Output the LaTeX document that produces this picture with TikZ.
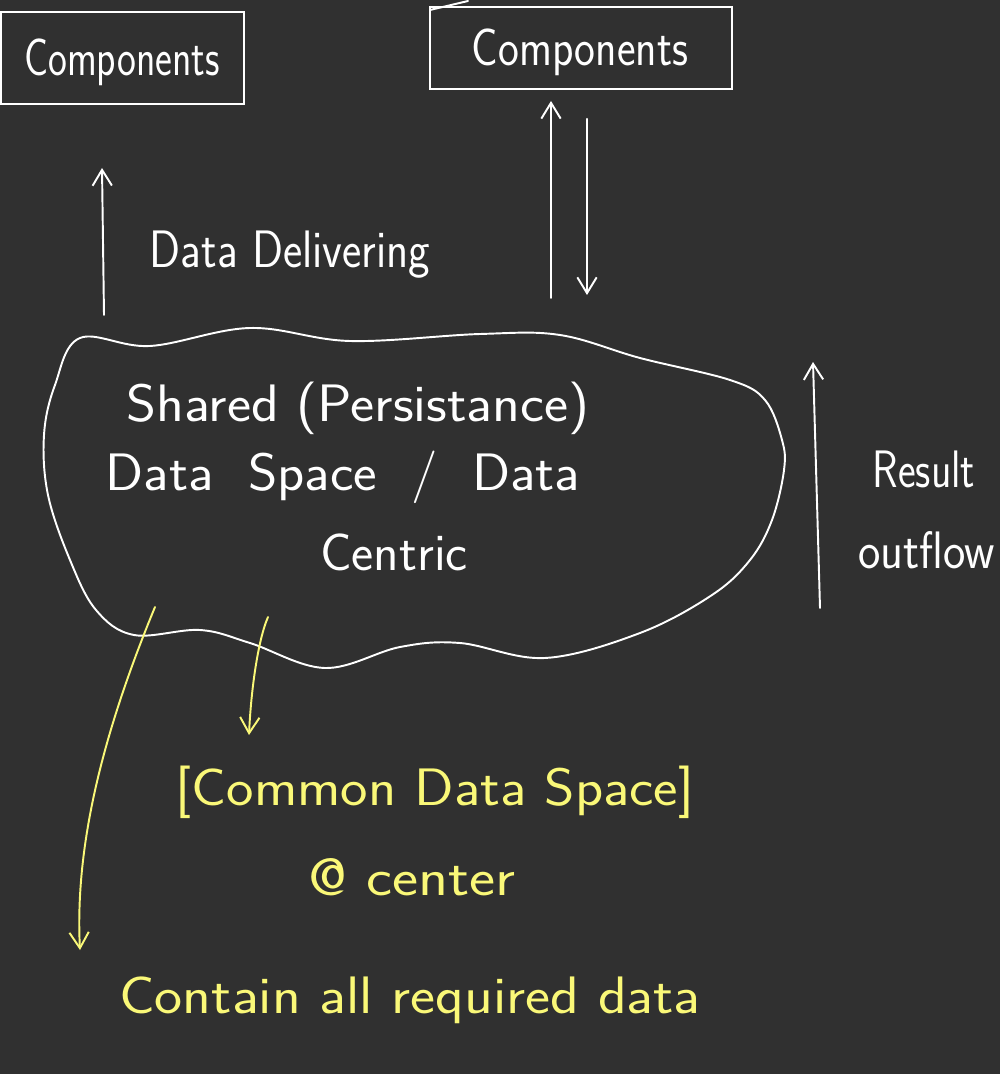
\documentclass[tikz,border=0pt]{standalone}
\usepackage{graphicx}
\usetikzlibrary{arrows.meta}
\definecolor{slate}{RGB}{48,48,48}
\definecolor{marker}{RGB}{250,248,120}
\newcommand{\hstretch}[2]{\scalebox{#1}[1]{#2}}
\tikzset{
  chalk/.style={white,line width=1.1pt,line cap=round,line join=round},
  hand/.style={font=\sffamily\fontsize{30}{36}\selectfont,text=white,inner sep=0pt},
  box/.style={draw=white,line width=1.1pt,inner sep=0pt},
  arr/.style={chalk,-{Straight Barb[length=9pt,width=11pt]}},
}
\begin{document}
\begin{tikzpicture}[x=0.02cm,y=-0.02cm]
  \useasboundingbox (0,0) rectangle (1000,1074);
  \fill[slate] (0,0) rectangle (1000,1074);
  % the two component boxes
  \node[box,minimum width=4.86cm,minimum height=1.84cm] (box1) at (122.5,58) {};
  \node[hand] (comp1) at (122,62) {\hstretch{0.76}{Components}};
  \node[box,minimum width=6.04cm,minimum height=1.64cm] (box2) at (581,48) {};
  \node[hand] (comp2) at (580,52) {\hstretch{0.84}{Components}};
  \draw[chalk] (430,42) -- (430,10) -- (468,1);
  % data delivering
  \coordinate (deliv foot) at (104,315);
  \coordinate (deliv tip) at (102,168);
  \draw[arr] (deliv foot) -- (deliv tip);
  \node[hand] (deliv) at (290,255) {\hstretch{0.87}{Data Delivering}};
  \coordinate (up foot) at (551,298);
  \coordinate (down foot) at (587,295);
  \draw[arr,shorten >=0.22cm] (up foot) -- (up foot |- box2.south);
  \draw[arr,shorten <=0.58cm] (down foot |- box2.south) -- (down foot);
  % the blob
  \draw[chalk] plot[smooth cycle,tension=0.6] coordinates {
    (80,338) (150,346) (250,328) (350,341) (480,334) (560,335) (640,358)
    (730,380) (765,400) (782,440) (784,470) (772,520) (750,560) (712,595)
    (640,633) (545,658) (460,643) (400,647) (325,668) (250,643) (200,630)
    (134,635) (96,610) (70,560) (48,495) (44,435) (55,385)};
  \node[hand] (shared) at (358,408) {\hstretch{1.09}{Shared (Persistance)}};
  \node[hand] (space) at (343,477) {\hstretch{1.066}{Data\hspace{0.3em} Space\hspace{0.3em} /\hspace{0.3em} Data}};
  \node[hand] (centric) at (394,552) {Centric};
  % result outflow
  \coordinate (flow foot) at (820,608);
  \coordinate (flow tip) at (813,362);
  \draw[arr] (flow foot) -- (flow tip);
  \node[hand] (result) at (924,469) {\hstretch{0.8}{Result}};
  \node[hand,anchor=west] (outflow) at (858,550) {\hstretch{0.9}{outflow}};
  % yellow notes
  \coordinate (fall top) at (155,607);
  \coordinate (fall tip) at (80,950);
  \draw[arr,marker] (fall top) .. controls (100,740) and (75,850) .. (fall tip);
  \coordinate (drop top) at (268,617);
  \coordinate (drop tip) at (249,735);
  \draw[arr,marker] (drop top) .. controls (258,640) and (251,690) .. (drop tip);
  \node[hand,text=marker] (common) at (435,792) {\hstretch{1.105}{[Common Data Space]}};
  \node[hand,text=marker] (atcenter) at (412,877) {\hstretch{1.18}{@ center}};
  \node[hand,text=marker] (contain) at (410,1000) {\hstretch{1.13}{Contain all required data}};
\end{tikzpicture}
\end{document}
